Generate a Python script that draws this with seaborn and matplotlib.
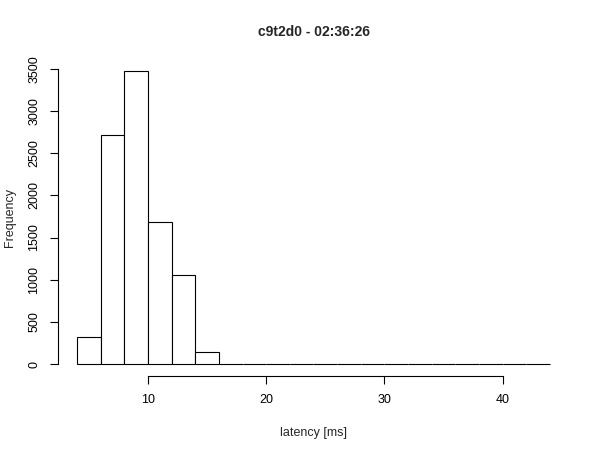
import matplotlib
matplotlib.use("Agg")
import matplotlib.pyplot as plt
import seaborn as sb
import numpy as np

# histogram of latency, bins 2 ms wide
edges = [4, 6, 8, 10, 12, 14, 16, 18, 20, 22, 24, 26, 28, 30, 32, 34, 36, 38, 40, 42, 44]
counts = [320, 2710, 3470, 1680, 1050, 145, 3, 2, 2, 1, 2, 1, 1, 1, 1, 1, 1, 1, 1, 1]
xticks = [10, 20, 30, 40]
yticks = [0, 500, 1000, 1500, 2000, 2500, 3000, 3500]

sb.set_style("white")
plt.rcParams['font.family'] = ['Liberation Sans', 'DejaVu Sans']

centers = [(a + b) / 2 for a, b in zip(edges[:-1], edges[1:])]

fig = plt.figure(figsize=(6, 4.5), dpi=100)
ax = fig.add_axes([0.097, 0.165, 0.851, 0.703])
sb.histplot(x=centers, weights=counts, bins=edges, color="white",
            edgecolor="black", linewidth=0.8, alpha=1, ax=ax)

ax.set_xlim(2.4, 45.6)
ax.set_ylim(-139, 3612)
ax.set_xticks(xticks)
ax.set_yticks(yticks)
ax.set_yticklabels([str(v) for v in yticks], rotation=90, va="center")
ax.tick_params(direction="out", length=6, width=0.8, labelsize=9, pad=7,
               bottom=True, left=True, colors="black")

for s in ["top", "right"]:
    ax.spines[s].set_visible(False)
ax.spines["bottom"].set_bounds(10, 40)
ax.spines["left"].set_bounds(0, 3500)
for s in ["bottom", "left"]:
    ax.spines[s].set_color("black")
    ax.spines[s].set_linewidth(0.8)

ax.set_xlabel("latency [ms]", fontsize=9, labelpad=15)
ax.set_ylabel("Frequency", fontsize=9, labelpad=9)
ax.set_title("c9t2d0 - 02:36:26", fontsize=10, fontweight="bold", pad=17)

fig.savefig("out.png", dpi=100)
